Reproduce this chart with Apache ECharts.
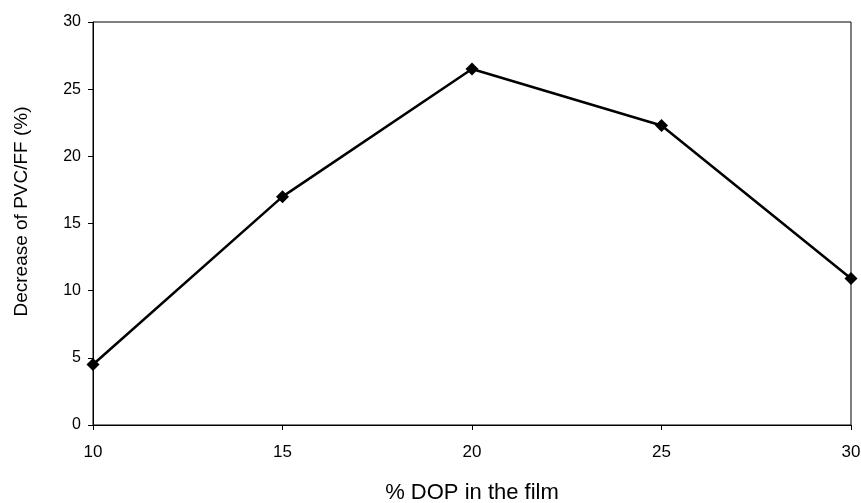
<!DOCTYPE html>
<html>
<head>
<meta charset="utf-8">
<script src="https://cdn.jsdelivr.net/npm/echarts@6/dist/echarts.min.js"></script>
<style>html,body{margin:0;padding:0;background:#fff}#c{width:861px;height:503px}</style>
</head>
<body>
<div id="c"></div>
<script>
var dopPercent = [10, 15, 20, 25, 30];
var pvcDecrease = [4.5, 17.0, 26.5, 22.3, 10.9];
var xTicks = [10, 15, 20, 25, 30];
var yTicks = [0, 5, 10, 15, 20, 25, 30];

var chart = echarts.init(document.getElementById('c'));
var font = '"Liberation Sans", Arial, sans-serif';
var data = dopPercent.map(function (x, i) { return [x, pvcDecrease[i]]; });
chart.setOption({
  animation: false,
  backgroundColor: '#fff',
  grid: { left: 93, right: 10, top: 22, bottom: 78, show: true, borderColor: '#000', borderWidth: 1,
          outerBoundsMode: 'none', containLabel: false },
  xAxis: {
    type: 'value', min: xTicks[0], max: xTicks[xTicks.length - 1], interval: 5,
    name: '% DOP in the film', nameLocation: 'middle', nameGap: 57,
    nameTextStyle: { fontFamily: font, fontSize: 22, color: '#000' },
    axisLine: { show: true, lineStyle: { color: '#000', width: 1 } },
    axisTick: { show: true, inside: false, length: 5, lineStyle: { color: '#000' } },
    axisLabel: { fontFamily: font, fontSize: 17, color: '#000', margin: 19 },
    splitLine: { show: false }
  },
  yAxis: {
    type: 'value', min: yTicks[0], max: yTicks[yTicks.length - 1], interval: 5,
    name: 'Decrease of PVC/FF (%)', nameLocation: 'middle', nameGap: 62, nameRotate: 90,
    nameTextStyle: { fontFamily: font, fontSize: 19, color: '#000', padding: [0, 0, 0, 24] },
    axisLine: { show: true, lineStyle: { color: '#000', width: 1 } },
    axisTick: { show: true, inside: false, length: 5, lineStyle: { color: '#000' } },
    axisLabel: { fontFamily: font, fontSize: 16, color: '#000', margin: 12 },
    splitLine: { show: false }
  },
  series: [{
    type: 'line', data: data,
    symbol: 'diamond', symbolSize: 13,
    lineStyle: { color: '#000', width: 2.5 },
    itemStyle: { color: '#000' }
  }]
});
</script>
</body>
</html>
